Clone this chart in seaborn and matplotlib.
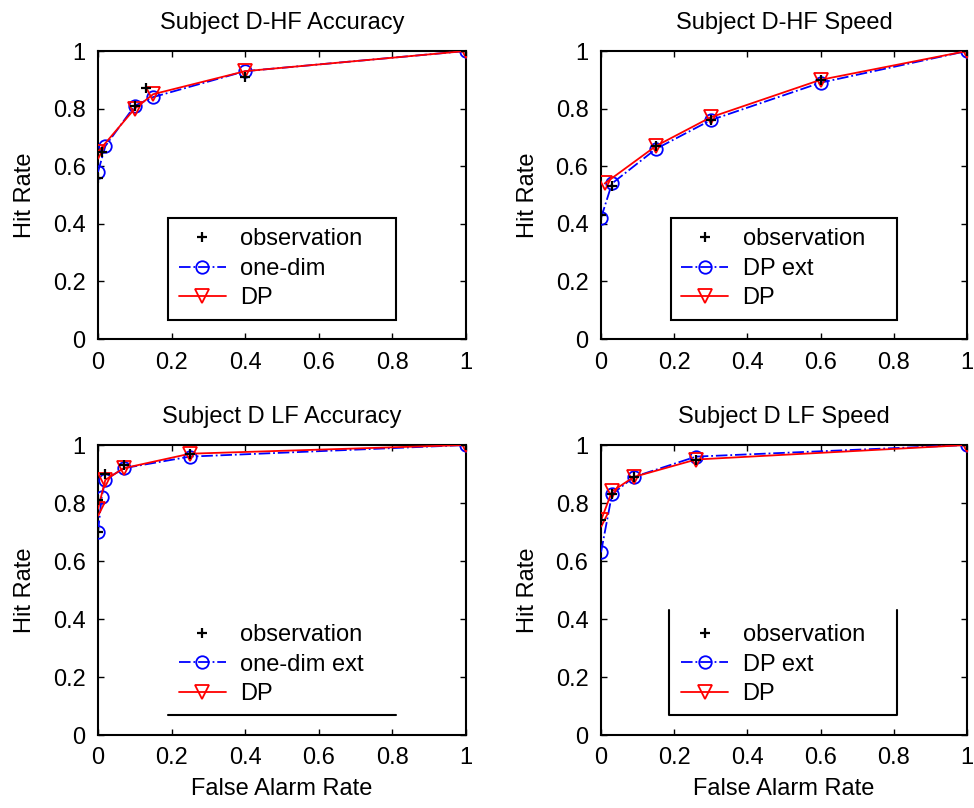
import matplotlib
matplotlib.use("Agg")
import matplotlib.pyplot as plt
import seaborn as sns
import numpy as np

sns.set_theme(style="ticks")
plt.rcParams['font.family'] = ['Liberation Sans', 'DejaVu Sans']
plt.rcParams['xtick.direction'] = 'in'
plt.rcParams['ytick.direction'] = 'in'
plt.rcParams['text.color'] = 'black'
plt.rcParams['axes.labelcolor'] = 'black'
plt.rcParams['axes.titlecolor'] = 'black'

# ---------------- data ----------------
titles = ["Subject D-HF Accuracy", "Subject D-HF Speed",
          "Subject D LF Accuracy", "Subject D LF Speed"]
model_labels = ["one-dim", "DP ext", "one-dim ext", "DP ext"]
ticks = [0, 0.2, 0.4, 0.6, 0.8, 1]
tick_labels = ["0", "0.2", "0.4", "0.6", "0.8", "1"]

# Panel 1: D-HF Accuracy
p1_obs_x = [0.0, 0.01, 0.10, 0.13, 0.40, 1.0]
p1_obs_y = [0.56, 0.65, 0.81, 0.87, 0.91, 1.0]
p1_mod_x = [0.0, 0.02, 0.10, 0.15, 0.40, 1.0]
p1_mod_y = [0.58, 0.67, 0.81, 0.84, 0.93, 1.0]
p1_dp_x = [0.0, 0.10, 0.15, 0.40, 1.0]
p1_dp_y = [0.65, 0.80, 0.85, 0.93, 1.0]

# Panel 2: D-HF Speed
p2_obs_x = [0.0, 0.03, 0.15, 0.30, 0.60, 1.0]
p2_obs_y = [0.43, 0.53, 0.67, 0.76, 0.90, 1.0]
p2_mod_x = [0.0, 0.03, 0.15, 0.30, 0.60, 1.0]
p2_mod_y = [0.42, 0.54, 0.66, 0.76, 0.89, 1.0]
p2_dp_x = [0.01, 0.15, 0.30, 0.60, 1.0]
p2_dp_y = [0.54, 0.67, 0.77, 0.90, 1.0]

# Panel 3: D LF Accuracy
p3_obs_x = [0.0, 0.0, 0.02, 0.07, 0.25, 1.0]
p3_obs_y = [0.70, 0.81, 0.90, 0.93, 0.97, 1.0]
p3_mod_x = [0.0, 0.01, 0.02, 0.07, 0.25, 1.0]
p3_mod_y = [0.70, 0.82, 0.88, 0.92, 0.96, 1.0]
p3_dp_x = [0.0, 0.02, 0.07, 0.25, 1.0]
p3_dp_y = [0.78, 0.88, 0.92, 0.97, 1.0]

# Panel 4: D LF Speed
p4_obs_x = [0.0, 0.03, 0.09, 0.26, 1.0]
p4_obs_y = [0.74, 0.83, 0.89, 0.95, 1.0]
p4_mod_x = [0.0, 0.03, 0.09, 0.26, 1.0]
p4_mod_y = [0.63, 0.83, 0.89, 0.96, 1.0]
p4_dp_x = [0.0, 0.03, 0.09, 0.26, 1.0]
p4_dp_y = [0.74, 0.84, 0.89, 0.95, 1.0]

panels = [
    (p1_obs_x, p1_obs_y, p1_mod_x, p1_mod_y, p1_dp_x, p1_dp_y),
    (p2_obs_x, p2_obs_y, p2_mod_x, p2_mod_y, p2_dp_x, p2_dp_y),
    (p3_obs_x, p3_obs_y, p3_mod_x, p3_mod_y, p3_dp_x, p3_dp_y),
    (p4_obs_x, p4_obs_y, p4_mod_x, p4_mod_y, p4_dp_x, p4_dp_y),
]

# ---------------- layout ----------------
W, H = 974, 808
fig = plt.figure(figsize=(W / 100, H / 100), dpi=100)
boxes = [(98, 51, 466, 339), (601, 51, 967, 339),
         (98, 445, 466, 735), (601, 445, 967, 735)]

FS = 17
for i, (box, data) in enumerate(zip(boxes, panels)):
    x0, y0, x1, y1 = box
    ax = fig.add_axes([x0 / W, 1 - y1 / H, (x1 - x0) / W, (y1 - y0) / H])
    ox, oy, mx, my, dx, dy = data
    sns.lineplot(x=mx, y=my, ax=ax, estimator=None, sort=False,
                 color='blue', linestyle='-.', linewidth=1.3, marker='o',
                 markersize=9, markerfacecolor='none', markeredgecolor='blue',
                 markeredgewidth=1.3, label=model_labels[i], zorder=3)
    sns.lineplot(x=dx, y=dy, ax=ax, estimator=None, sort=False,
                 color='red', linestyle='-', linewidth=1.3, marker='v',
                 markersize=10, markerfacecolor='none', markeredgecolor='red',
                 markeredgewidth=1.3, label='DP', zorder=4)
    sns.lineplot(x=ox, y=oy, ax=ax, estimator=None, sort=False,
                 color='black', linestyle='none', marker='+',
                 markersize=7, markeredgewidth=1.6, markeredgecolor='black',
                 label='observation', zorder=5)
    ax.set_xlim(0, 1)
    ax.set_ylim(0, 1)
    ax.set_xticks(ticks)
    ax.set_xticklabels(tick_labels)
    ax.set_yticks(ticks)
    ax.set_yticklabels(tick_labels)
    ax.tick_params(axis='both', labelsize=FS, length=4, width=1,
                   top=True, right=True, colors='black', pad=9)
    for s in ax.spines.values():
        s.set_visible(True)
        s.set_linewidth(1.5)
        s.set_color('black')
    ax.set_title(titles[i], fontsize=FS, pad=16, color='black')
    ax.set_ylabel("Hit Rate", fontsize=FS, labelpad=12, color='black')
    if i >= 2:
        ax.set_xlabel("False Alarm Rate", fontsize=FS, labelpad=6, color='black')
    else:
        ax.set_xlabel("")
    handles, labels = ax.get_legend_handles_labels()
    order = [2, 0, 1]
    leg = ax.legend([handles[k] for k in order], [labels[k] for k in order],
                    loc='lower left', bbox_to_anchor=(0.19, 0.066, 0.62, 0.364),
                    mode='expand', borderaxespad=0, fontsize=FS,
                    handlelength=2.0, labelspacing=0.32, borderpad=0.45,
                    handletextpad=0.6, fancybox=False, framealpha=1,
                    edgecolor='black', labelcolor='black')
    leg.get_frame().set_linewidth(1.5)
    if i == 2:
        leg.set_frame_on(False)
        ax.plot([0.19, 0.81], [0.07, 0.07], transform=ax.transAxes,
                color='black', linewidth=1.5)
    if i == 3:
        leg.set_frame_on(False)
        ax.plot([0.186, 0.186, 0.81, 0.81], [0.43, 0.07, 0.07, 0.43],
                transform=ax.transAxes, color='black', linewidth=1.5)

fig.savefig("out.png", dpi=100, facecolor='white')
